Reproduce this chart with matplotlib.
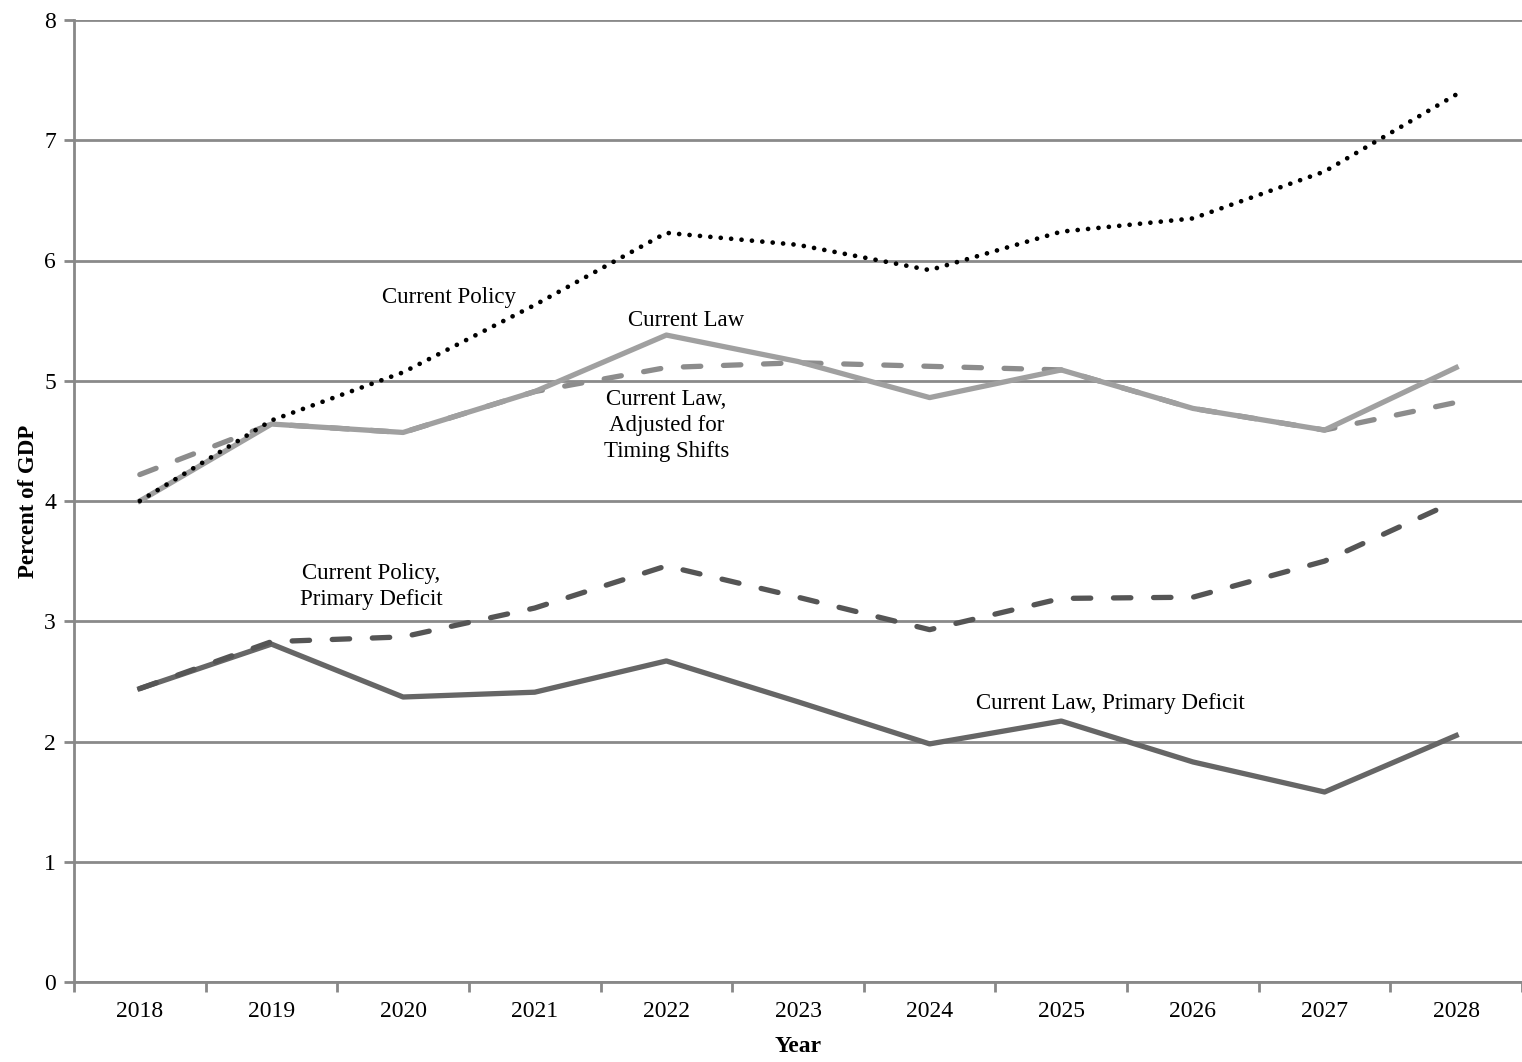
import matplotlib
matplotlib.use("Agg")
import matplotlib.pyplot as plt
import numpy as np

years = ["2018", "2019", "2020", "2021", "2022", "2023", "2024", "2025", "2026", "2027", "2028"]
current_policy = [4.00, 4.67, 5.07, 5.63, 6.23, 6.13, 5.92, 6.24, 6.35, 6.74, 7.38]
current_law = [4.00, 4.64, 4.57, 4.91, 5.38, 5.16, 4.86, 5.09, 4.77, 4.59, 5.11]
current_law_adj = [4.22, 4.64, 4.57, 4.91, 5.11, 5.15, 5.12, 5.09, 4.77, 4.59, 4.82]
current_policy_primary = [2.44, 2.83, 2.87, 3.11, 3.46, 3.20, 2.93, 3.19, 3.20, 3.50, 4.00]
current_law_primary = [2.44, 2.81, 2.37, 2.41, 2.67, 2.33, 1.98, 2.17, 1.83, 1.58, 2.05]
yticks = [0, 1, 2, 3, 4, 5, 6, 7, 8]

plt.rcParams['font.family'] = ['Liberation Serif', 'DejaVu Serif']

fig = plt.figure(figsize=(15.22, 10.62), dpi=100)
ax = fig.add_axes([74/1522, 80/1062, 1448/1522, 962/1062])

x = np.arange(len(years))
lw = 3.8
ax.plot(x, current_law_primary, color="#666666", lw=lw, zorder=3)
ax.plot(x, current_policy_primary, color="#555555", lw=lw, dashes=(3.3, 4.3),
        dash_capstyle='round', zorder=3)
ax.plot(x, current_law_adj, color="#8c8c8c", lw=lw, dashes=(3.3, 4.3),
        dash_capstyle='round', zorder=3)
ax.plot(x, current_law, color="#a0a0a0", lw=lw, zorder=4)
ax.plot(x, current_policy, color="black", lw=3.4, linestyle=(0, (0.01, 2.2)),
        dash_capstyle='round', zorder=5)

ax.set_xlim(-0.5, len(years) - 0.5)
ax.set_ylim(0, 8)
ax.set_yticks(yticks)
ax.set_yticklabels([str(v) for v in yticks], fontsize=17)
ax.set_xticks(x)
ax.set_xticklabels(years, fontsize=17)
ax.set_xticks(np.arange(-0.5, len(years)), minor=True)
ax.tick_params(axis='x', which='major', length=0, pad=14)
ax.tick_params(axis='x', which='minor', length=7, width=2, color="#888888", direction='out')
ax.tick_params(axis='y', length=7, width=2, color="#888888", direction='out', pad=6)

ax.grid(axis='y', color="#8a8a8a", lw=2)
ax.set_axisbelow(True)
for s in ['top', 'right']:
    ax.spines[s].set_visible(False)
for s in ['left', 'bottom']:
    ax.spines[s].set_color("#888888")
    ax.spines[s].set_linewidth(2)

ax.set_ylabel("Percent of GDP", fontsize=16.5, fontweight='bold', labelpad=4)
ax.set_xlabel("Year", fontsize=17, fontweight='bold', labelpad=10)

tk = dict(fontsize=16.5, ha='center', va='center', linespacing=1.3)
ax.text(2.35, 5.69, "Current Policy", **tk)
ax.text(4.15, 5.50, "Current Law", **tk)
ax.text(4.0, 4.63, "Current Law,\nAdjusted for\nTiming Shifts", **tk)
ax.text(1.76, 3.29, "Current Policy,\nPrimary Deficit", **tk)
ax.text(7.37, 2.32, "Current Law, Primary Deficit", **tk)

fig.savefig("out.png", dpi=100)
